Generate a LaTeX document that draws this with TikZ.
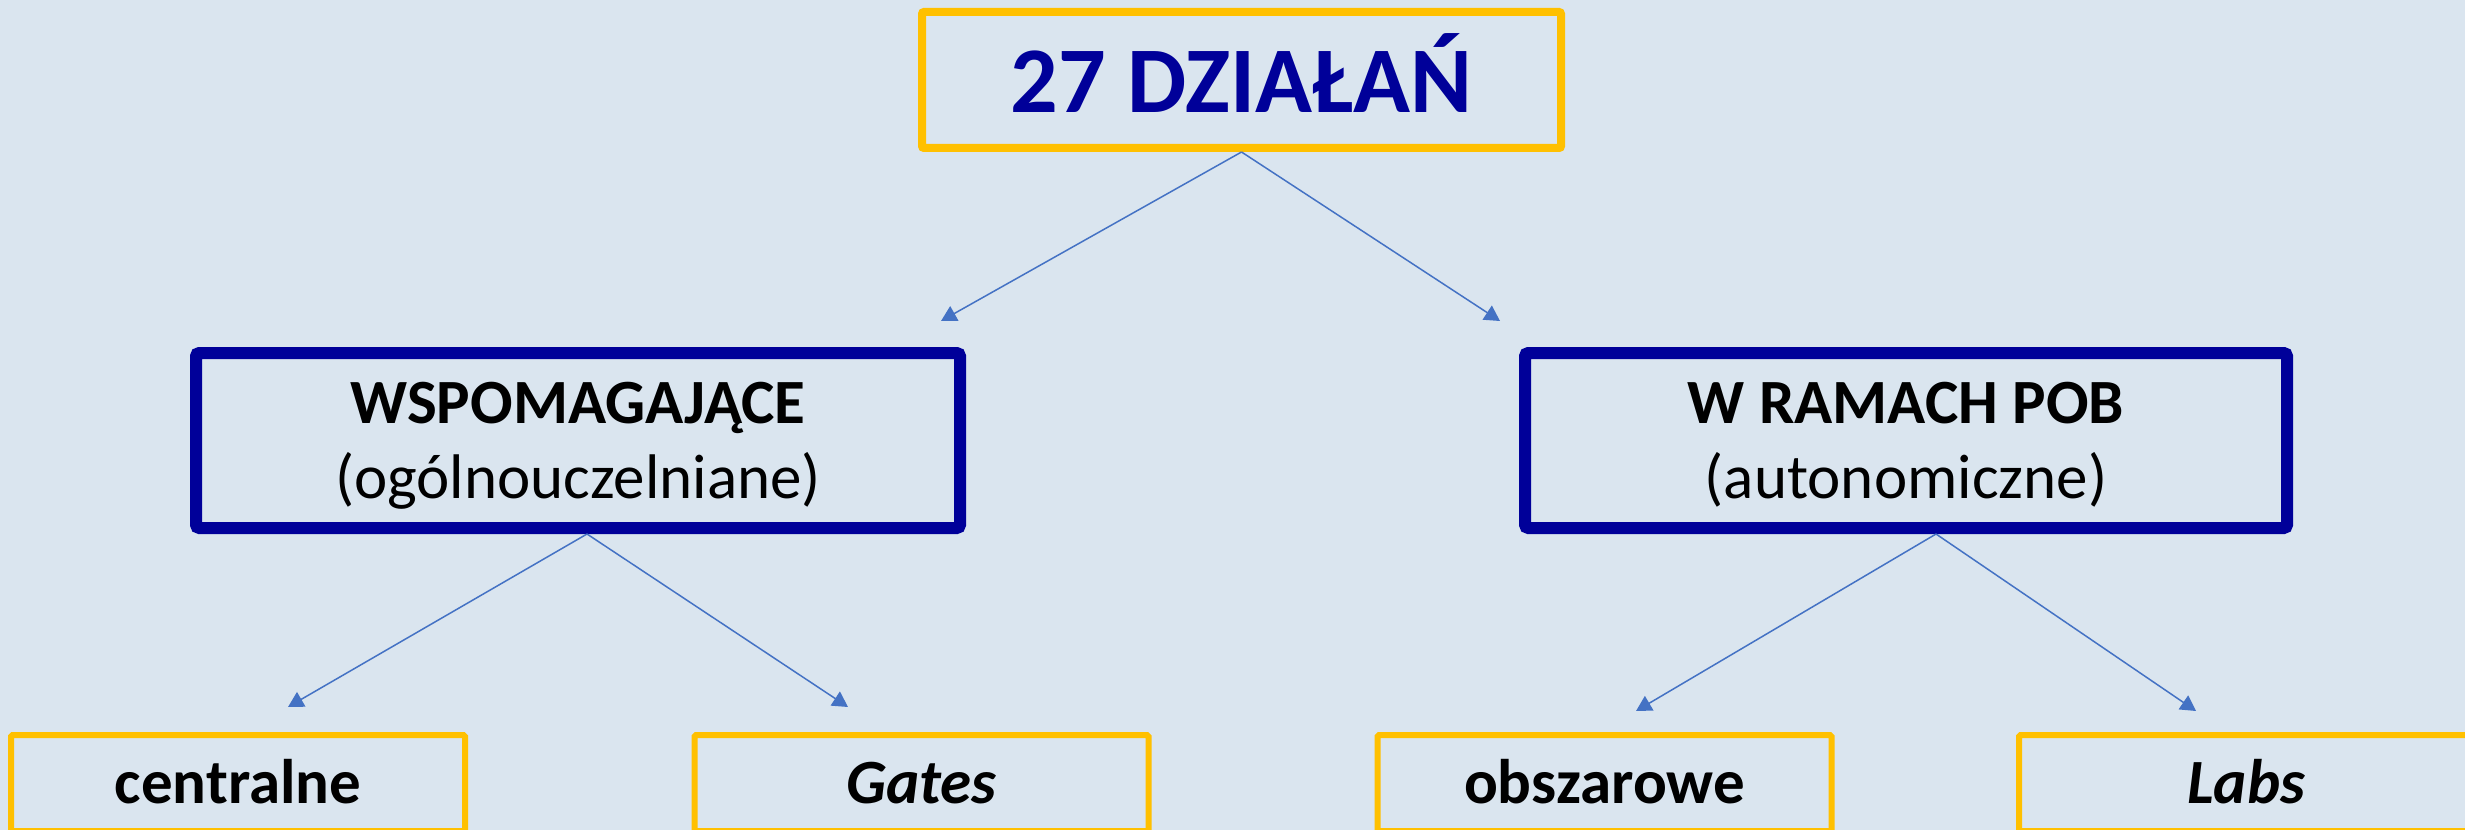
\documentclass[tikz,border=0pt]{standalone}
\usepackage{fontspec}
\setmainfont{Carlito}
\usetikzlibrary{arrows.meta}
\definecolor{bgblue}{HTML}{DAE5EF}
\definecolor{goldline}{HTML}{FFC000}
\definecolor{navy}{HTML}{000099}
\definecolor{arrowblue}{HTML}{4472C4}
\tikzset{
  topbox/.style={draw=goldline, line width=2.4pt, inner sep=0pt, rounded corners=0.6pt,
    minimum width=639*0.3pt, minimum height=136*0.3pt,
    font=\fontsize{28.2}{33}\selectfont\bfseries, text=navy,
    text height=66*0.3pt, text depth=0pt},
  midbox/.style={draw=navy, line width=3.6pt, inner sep=0pt, rounded corners=1pt,
    minimum width=764*0.3pt, minimum height=175*0.3pt, align=center,
    font=\fontsize{18.9}{22.5}\selectfont, text=black,
    text height=115*0.3pt, text depth=0pt},
  leafbox/.style={draw=goldline, line width=1.8pt, inner sep=0pt, rounded corners=0.5pt,
    minimum width=454*0.3pt, minimum height=96*0.3pt,
    font=\fontsize{18.9}{22.5}\selectfont\bfseries, text=black,
    text height=40*0.3pt, text depth=0pt},
  link/.style={draw=arrowblue, line width=0.45pt, -{Triangle[length=4.6pt,width=5pt]}}
}
\begin{document}
\begin{tikzpicture}[x=0.3pt,y=-0.3pt]
\fill[bgblue] (0,0) rectangle (2465,830);
\useasboundingbox (0,0) rectangle (2465,830);
\clip (0,0) rectangle (2465,830);
\node[topbox] (top) at (1241.5,80) {27 DZIAŁAŃ};
\node[midbox] (wsp) at (578,440.5) {\textbf{WSPOMAGAJĄCE}\\(ogólnouczelniane)};
\node[midbox, minimum width=762*0.3pt] (pob) at (1906,440.5) {\textbf{W RAMACH POB}\\(autonomiczne)};
\node[leafbox] (cen) at (238,783) {centralne};
\node[leafbox] (gat) at (921.5,783) {\textit{Gates}};
\node[leafbox] (obs) at (1604.5,783) {obszarowe};
\node[leafbox] (lab) at (2246,783) {\textit{Labs}};
\coordinate (tipwsp) at (941,321);
\coordinate (tippob) at (1500,321);
\coordinate (tipcen) at (288,707);
\coordinate (tipgat) at (848,707);
\coordinate (tipobs) at (1636,711);
\coordinate (tiplab) at (2196,711);
\draw[link] (top.south) -- (tipwsp);
\draw[link] (top.south) -- (tippob);
\draw[link] ([xshift=9*0.3pt]wsp.south) -- (tipcen);
\draw[link] ([xshift=9*0.3pt]wsp.south) -- (tipgat);
\draw[link] ([xshift=30*0.3pt]pob.south) -- (tipobs);
\draw[link] ([xshift=30*0.3pt]pob.south) -- (tiplab);
\end{tikzpicture}
\end{document}
